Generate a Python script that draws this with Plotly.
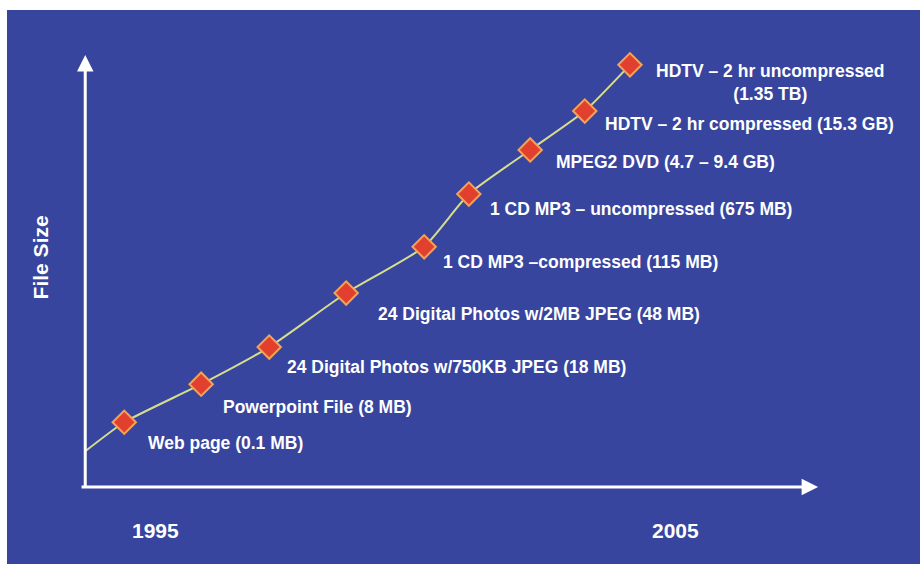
import plotly.graph_objects as go

# ---- data ----
years = [1994.39, 1995.87, 1997.18, 1998.66, 2000.16, 2001.02, 2002.20, 2003.25, 2004.12]
size_index = [1.50, 2.38, 3.24, 4.49, 5.56, 6.78, 7.80, 8.70, 9.77]
labels = [
    "Web page (0.1 MB)",
    "Powerpoint File (8 MB)",
    "24 Digital Photos w/750KB JPEG (18 MB)",
    "24 Digital Photos w/2MB JPEG (48 MB)",
    "1 CD MP3 \u2013compressed (115 MB)",
    "1 CD MP3 \u2013 uncompressed (675 MB)",
    "MPEG2 DVD (4.7 \u2013 9.4 GB)",
    "HDTV \u2013 2 hr compressed (15.3 GB)",
    "HDTV \u2013 2 hr uncompressed<br>(1.35 TB)",
]
line_start_year = 1993.64
line_start_size = 0.83
tick_years = [1995, 2005]
tick_text = ["1995", "2005"]
axis_title = "File Size"

# ---- styling ----
BLUE = "#37459E"
LINE = "#D6DE8C"
RED = "#E2402E"
ORANGE = "#F4A257"
FONT = "Liberation Sans, Arial, sans-serif"
label_dx = [22, 20, 16, 30, 17, 19, 24, 18, 24]
label_dy = [21, 23, 20, 21, 15, 15, 12, 13, 18]

origin_x, origin_y = 1993.64, 0.0
x_tip, y_tip = 2007.74, 10.0
x_left = 1993.54

fig = go.Figure()
fig.add_trace(go.Scatter(
    x=[line_start_year] + years, y=[line_start_size] + size_index,
    mode="lines", line=dict(color=LINE, width=2, shape="spline", smoothing=0.5),
    hoverinfo="skip", showlegend=False))
fig.add_trace(go.Scatter(
    x=years, y=size_index, mode="markers",
    marker=dict(symbol="diamond", size=18, color=RED, line=dict(color=ORANGE, width=2)),
    showlegend=False))

annotations = []
for xv, yv, t, dx, dy in zip(years, size_index, labels, label_dx, label_dy):
    annotations.append(dict(
        x=xv, y=yv, xref="x", yref="y", text="<b>%s</b>" % t, showarrow=False,
        xanchor="left", yanchor="middle", align="center", xshift=dx, yshift=-dy,
        font=dict(family=FONT, size=17.5, color="white")))

for xv, tt in zip(tick_years, tick_text):
    annotations.append(dict(
        x=xv, y=origin_y, xref="x", yref="y", text="<b>%s</b>" % tt, showarrow=False,
        xanchor="center", yanchor="middle", yshift=-43,
        font=dict(family=FONT, size=21, color="white")))

annotations.append(dict(
    x=origin_x, y=5.32, xref="x", yref="y", text="<b>%s</b>" % axis_title, showarrow=False,
    xanchor="center", yanchor="middle", xshift=-45, textangle=-90,
    font=dict(family=FONT, size=21, color="white")))

# axes with arrowheads
annotations.append(dict(
    x=x_tip, y=origin_y, ax=x_left, ay=origin_y, xref="x", yref="y", axref="x", ayref="y",
    text="", showarrow=True, arrowhead=2, arrowsize=1.1, arrowwidth=3, arrowcolor="white"))
annotations.append(dict(
    x=origin_x, y=y_tip, ax=origin_x, ay=origin_y - 0.03, xref="x", yref="y", axref="x", ayref="y",
    text="", showarrow=True, arrowhead=2, arrowsize=1.1, arrowwidth=3, arrowcolor="white"))

fig.update_layout(
    width=920, height=564,
    margin=dict(l=0, r=0, t=0, b=0),
    paper_bgcolor="white", plot_bgcolor="rgba(0,0,0,0)",
    xaxis=dict(range=[1992, 2009.7], visible=False, fixedrange=True),
    yaxis=dict(range=[-1.78, 11.27], visible=False, fixedrange=True),
    annotations=annotations,
    shapes=[dict(type="rect", xref="paper", yref="paper", x0=7 / 920, x1=1, y0=0, y1=1 - 10 / 564,
                 fillcolor=BLUE, line=dict(width=0), layer="below")],
    showlegend=False,
)

fig.write_html("out.html")
